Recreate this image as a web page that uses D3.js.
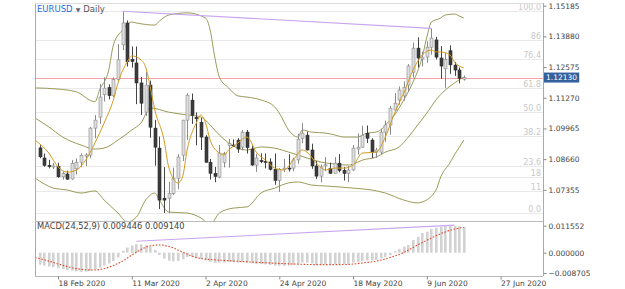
<!DOCTYPE html>
<html><head><meta charset="utf-8">
<script src="https://cdn.jsdelivr.net/npm/d3@7"></script>
<style>
body{margin:0;background:#fff}
svg{display:block}
text{font-family:"DejaVu Sans",sans-serif}
</style>
</head><body>
<svg id="c" width="625" height="289"></svg>
<script>
// ---------- DATA ----------
const symbol = "EURUSD", period = "Daily";
const dates = ["2020-02-12","2020-02-13","2020-02-14","2020-02-17","2020-02-18","2020-02-19","2020-02-20","2020-02-21","2020-02-24","2020-02-25","2020-02-26","2020-02-27","2020-02-28",
"2020-03-02","2020-03-03","2020-03-04","2020-03-05","2020-03-06","2020-03-09","2020-03-10","2020-03-11","2020-03-12","2020-03-13","2020-03-16","2020-03-17","2020-03-18","2020-03-19","2020-03-20","2020-03-23","2020-03-24","2020-03-25","2020-03-26","2020-03-27","2020-03-30","2020-03-31",
"2020-04-01","2020-04-02","2020-04-03","2020-04-06","2020-04-07","2020-04-08","2020-04-09","2020-04-10","2020-04-13","2020-04-14","2020-04-15","2020-04-16","2020-04-17","2020-04-20","2020-04-21","2020-04-22","2020-04-23","2020-04-24","2020-04-27","2020-04-28","2020-04-29","2020-04-30",
"2020-05-01","2020-05-04","2020-05-05","2020-05-06","2020-05-07","2020-05-08","2020-05-11","2020-05-12","2020-05-13","2020-05-14","2020-05-15","2020-05-18","2020-05-19","2020-05-20","2020-05-21","2020-05-22","2020-05-25","2020-05-26","2020-05-27","2020-05-28","2020-05-29",
"2020-06-01","2020-06-02","2020-06-03","2020-06-04","2020-06-05","2020-06-08","2020-06-09","2020-06-10","2020-06-11","2020-06-12","2020-06-15","2020-06-16","2020-06-17","2020-06-18","2020-06-19"];
const futureDates = ["2020-06-20","2020-06-21","2020-06-22","2020-06-23","2020-06-24","2020-06-25","2020-06-26","2020-06-27","2020-06-28","2020-06-29","2020-06-30"];

const open  = [1.0914,1.0871,1.0840,1.0833,1.0834,1.0791,1.0803,1.0782,1.0825,1.0853,1.0879,1.0883,1.0998,
1.1045,1.1140,1.1170,1.1136,1.1205,1.1352,1.1445,1.1290,1.1275,1.1190,1.1066,1.1181,1.0998,1.0913,1.0700,1.0700,1.0720,1.0785,1.0883,1.1032,1.1117,1.1043,
1.1023,1.0960,1.0853,1.0806,1.0790,1.0852,1.0925,1.0926,1.0947,1.0917,1.0981,1.0909,1.0841,1.0860,1.0857,1.0854,1.0823,1.0776,1.0823,1.0828,1.0828,1.0863,
1.0955,1.0968,1.0905,1.0837,1.0794,1.0838,1.0827,1.0806,1.0849,1.0818,1.0806,1.0820,1.0909,1.0917,1.0976,1.0947,1.0896,1.0896,1.0981,1.1011,1.1075,
1.1118,1.1135,1.1181,1.1236,1.1338,1.1292,1.1300,1.1342,1.1373,1.1296,1.1250,1.1327,1.1266,1.1245,1.1206];
const high  = [1.0925,1.0890,1.0863,1.0850,1.0851,1.0814,1.0817,1.0863,1.0869,1.0891,1.0891,1.1003,1.1054,
1.1185,1.1214,1.1184,1.1214,1.1355,1.1495,1.1456,1.1345,1.1345,1.1215,1.1236,1.1200,1.1033,1.0962,1.0832,1.0770,1.0830,1.0887,1.1033,1.1147,1.1145,1.1065,
1.1041,1.0968,1.0867,1.0833,1.0926,1.0897,1.0952,1.0950,1.0955,1.0990,1.0990,1.0925,1.0889,1.0891,1.0890,1.0870,1.0890,1.0828,1.0867,1.0887,1.0872,1.0974,
1.1019,1.0983,1.0932,1.0858,1.0843,1.0875,1.0851,1.0875,1.0888,1.0833,1.0838,1.0926,1.0975,1.1008,1.1009,1.0955,1.0914,1.0996,1.1030,1.1092,1.1147,
1.1175,1.1197,1.1270,1.1362,1.1384,1.1323,1.1367,1.1422,1.1386,1.1347,1.1318,1.1350,1.1279,1.1256,1.1222];
const low   = [1.0870,1.0834,1.0827,1.0824,1.0787,1.0779,1.0778,1.0778,1.0801,1.0832,1.0837,1.0870,1.0955,
1.1016,1.1111,1.1120,1.1130,1.1195,1.1330,1.1260,1.1255,1.1100,1.1054,1.1050,1.0957,1.0838,1.0654,1.0637,1.0636,1.0713,1.0738,1.0858,1.0948,1.1016,1.0925,
1.0905,1.0851,1.0779,1.0768,1.0785,1.0831,1.0830,1.0918,1.0893,1.0903,1.0890,1.0838,1.0812,1.0849,1.0827,1.0818,1.0757,1.0727,1.0811,1.0813,1.0814,1.0847,
1.0934,1.0903,1.0825,1.0782,1.0767,1.0815,1.0804,1.0806,1.0810,1.0775,1.0768,1.0816,1.0886,1.0915,1.0935,1.0870,1.0871,1.0886,1.0940,1.0970,1.1070,
1.1098,1.1115,1.1152,1.1213,1.1256,1.1260,1.1276,1.1310,1.1290,1.1208,1.1168,1.1229,1.1220,1.1188,1.1200];
const close = [1.0876,1.0840,1.0835,1.0837,1.0791,1.0805,1.0781,1.0848,1.0853,1.0881,1.0884,1.0998,1.1032,
1.1130,1.1168,1.1136,1.1205,1.1288,1.1445,1.1280,1.1282,1.1190,1.1104,1.1181,1.1002,1.0917,1.0692,1.0692,1.0720,1.0785,1.0875,1.1032,1.1138,1.1053,1.1038,
1.0960,1.0853,1.0806,1.0793,1.0892,1.0890,1.0932,1.0924,1.0909,1.0981,1.0915,1.0841,1.0871,1.0857,1.0854,1.0823,1.0776,1.0823,1.0828,1.0825,1.0863,1.0951,
1.0977,1.0905,1.0837,1.0794,1.0833,1.0842,1.0806,1.0849,1.0818,1.0806,1.0820,1.0913,1.0917,1.0968,1.0955,1.0896,1.0905,1.0981,1.1011,1.1083,1.1104,
1.1160,1.1172,1.1262,1.1338,1.1296,1.1300,1.1342,1.1381,1.1300,1.1262,1.1290,1.1267,1.1245,1.1210,1.1213];

// overlay lines: [bar index, price]
const smaFast = [[-1,1.0947],[2,1.0892],[4,1.0833],[6,1.0811],[8,1.0820],[10,1.0862],[12,1.0935],[14,1.1020],[16,1.1118],[17,1.1190],[19,1.1279],[20,1.1305],[22,1.1288],[23,1.1258],[24,1.1173],[25,1.1075],[27,1.0947],[28,1.0833],[30,1.0765],[31,1.0790],[32,1.0905],[34,1.1020],[35,1.1054],[36,1.1020],[37,1.0947],[39,1.0892],[40,1.0884],[41,1.0905],[43,1.0935],[45,1.0960],[47,1.0896],[49,1.0862],[51,1.0828],[53,1.0820],[55,1.0862],[57,1.0905],[58,1.0896],[60,1.0850],[62,1.0820],[64,1.0828],[66,1.0828],[68,1.0841],[70,1.0892],[73,1.0896],[75,1.0960],[77,1.1062],[79,1.1147],[81,1.1245],[83,1.1309],[85,1.1330],[86,1.1322],[87,1.1322],[89,1.1309],[90,1.1279],[92,1.1254]];
const bbUpper = [[-1,1.1169],[4,1.1164],[8,1.1152],[12,1.1110],[13,1.1160],[15,1.1245],[16,1.1351],[18,1.1415],[20,1.1449],[21,1.1445],[25,1.1436],[26,1.1453],[28,1.1479],[32,1.1488],[36,1.1466],[37,1.1415],[38,1.1300],[39,1.1215],[41,1.1169],[43,1.1135],[45,1.1130],[48,1.1118],[51,1.1088],[52,1.1062],[54,1.0990],[55,1.0969],[56,1.0960],[57,1.0990],[59,1.0981],[62,1.0977],[64,1.0969],[66,1.0960],[69,1.0960],[71,1.0977],[73,1.0981],[74,1.0990],[75,1.1011],[77,1.1054],[79,1.1118],[81,1.1194],[83,1.1300],[84,1.1385],[85,1.1449],[87,1.1466],[88,1.1479],[90,1.1483],[91,1.1475],[92,1.1466]];
const bbMiddle = [[-1,1.1041],[2,1.1003],[5,1.0960],[9,1.0926],[12,1.0909],[14,1.0913],[17,1.0947],[20,1.0990],[22,1.1020],[24,1.1084],[28,1.1066],[32,1.1054],[35,1.1045],[37,1.1011],[39,1.0969],[41,1.0935],[43,1.0913],[45,1.0905],[48,1.0918],[51,1.0913],[54,1.0896],[56,1.0884],[58,1.0871],[61,1.0854],[64,1.0845],[67,1.0841],[68,1.0845],[70,1.0862],[73,1.0875],[75,1.0896],[78,1.0918],[80,1.0960],[82,1.1011],[84,1.1062],[86,1.1118],[88,1.1160],[90,1.1190],[92,1.1215]];
const bbLower = [[-1,1.0786],[3,1.0743],[6,1.0735],[9,1.0722],[12,1.0731],[14,1.0692],[17,1.0637],[19,1.0599],[21,1.0620],[23,1.0692],[25,1.0722],[26,1.0692],[28,1.0641],[32,1.0637],[35,1.0616],[37,1.0590],[39,1.0637],[42,1.0658],[45,1.0663],[48,1.0722],[51,1.0743],[54,1.0765],[56,1.0769],[59,1.0756],[62,1.0752],[65,1.0748],[68,1.0743],[72,1.0735],[75,1.0722],[79,1.0692],[82,1.0680],[83,1.0684],[86,1.0735],[87,1.0790],[89,1.0850],[90,1.0885],[91,1.0915],[92,1.0947]];
const trendBars = [18, 85]; // highs joined by the price trend line

const fibLevels = [0, 11, 18, 23.6, 38.2, 50, 61.8, 76.4, 86, 100];
const fibLabels = ["0.0","11","18","23.6","38.2","50.0","61.8","76.4","86","100.0"];
const priceTicks = [1.07355, 1.08660, 1.09965, 1.11270, 1.12575, 1.13880, 1.15185];

const macdTitle = "MACD(24,52,9)";
const macdLast = 0.009446, signalLast = 0.009140;
const macdHist = [-0.0051,-0.0055,-0.0059,-0.0062,-0.0066,-0.0070,-0.0074,-0.0077,-0.0080,-0.0082,-0.0081,-0.0078,-0.0072,
-0.0064,-0.0055,-0.0046,-0.0035,-0.0020,0.0008,0.0022,0.0031,0.0036,0.0036,0.0032,0.0024,0.0012,-0.0010,-0.0025,-0.0034,-0.0037,-0.0035,-0.0028,-0.0019,-0.0018,-0.0021,
-0.0026,-0.0033,-0.0039,-0.0043,-0.0042,-0.0042,-0.0041,-0.0041,-0.0042,-0.0040,-0.0042,-0.0046,-0.0048,-0.0049,-0.0050,-0.0052,-0.0055,-0.0056,-0.0056,-0.0055,-0.0053,-0.0047,
-0.0042,-0.0042,-0.0046,-0.0050,-0.0050,-0.0049,-0.0049,-0.0048,-0.0048,-0.0048,-0.0047,-0.0042,-0.0039,-0.0035,-0.0033,-0.0033,-0.0031,-0.0025,-0.0019,-0.0011,0.0006,
0.0016,0.0026,0.0033,0.0054,0.0068,0.0084,0.0090,0.0101,0.0107,0.0111,0.0116,0.0116,0.0114,0.0113,0.0111];
const macdSignal = [[-1,-0.0021],[0,-0.0025],[2,-0.0036],[4,-0.0048],[6,-0.0059],[8,-0.0068],[10,-0.0073],[12,-0.0074],[14,-0.0068],[16,-0.0055],[18,-0.0036],[20,-0.0010],[22,0.0014],[24,0.0029],[26,0.0033],[28,0.0027],[30,0.0012],[32,-0.0006],[34,-0.0021],[37,-0.0029],[40,-0.0033],[44,-0.0038],[48,-0.0042],[52,-0.0046],[56,-0.0049],[60,-0.0051],[64,-0.0051],[67,-0.0050],[70,-0.0044],[73,-0.0036],[76,-0.0021],[79,0.0001],[82,0.0033],[85,0.0063],[88,0.0089],[90,0.0101],[92,0.0108]];
const macdTrend = [[21, 0.0049], [90, 0.0118]];
const macdTicks = [0.011552, 0, -0.008705];

const tickDates  = ["2020-02-18","2020-03-11","2020-04-02","2020-04-24","2020-05-18","2020-06-09","2020-06-27"];
const tickLabels = ["18 Feb 2020","11 Mar 2020","2 Apr 2020","24 Apr 2020","18 May 2020","9 Jun 2020","27 Jun 2020"];

// ---------- LAYOUT ----------
const L = 35, R = 543, T = 3, MB = 221, B = 276;
const slots = dates.concat(futureDates);
const x = d3.scaleLinear().domain([0, 1]).range([39.6, 39.6 + 4.61]);
const y = d3.scaleLinear().domain([1.06031, 1.15300]).range([MB, T]);
const ym = d3.scaleLinear().domain([-0.00997, 0.01356]).range([B, MB]);

const svg = d3.select("#c");
const defs = svg.append("defs");
defs.append("clipPath").attr("id","clipMain").append("rect").attr("x",L).attr("y",T).attr("width",R-L).attr("height",MB-T);
defs.append("clipPath").attr("id","clipMacd").append("rect").attr("x",L).attr("y",MB).attr("width",R-L).attr("height",B-MB);

// fib grid
const fLow = d3.min(low), fHigh = d3.max(high);
const fibPrice = f => fLow + f/100*(fHigh - fLow);
const gFib = svg.append("g");
fibLevels.forEach((f,i) => {
  const yy = Math.round(y(fibPrice(f))) + 0.5;
  gFib.append("line").attr("x1",L).attr("x2",R).attr("y1",yy).attr("y2",yy).attr("stroke","#e9e9e9").attr("stroke-width",1);
  gFib.append("text").attr("x",R-2).attr("y",yy-1.5).attr("text-anchor","end").attr("font-size",8).attr("fill","#c8c8c8").text(fibLabels[i]);
});

// current price line
const last = close[close.length-1];
svg.append("line").attr("x1",L).attr("x2",R).attr("y1",Math.round(y(last))+0.5).attr("y2",Math.round(y(last))+0.5)
  .attr("stroke","#f2a3a3").attr("stroke-width",1);

const main = svg.append("g").attr("clip-path","url(#clipMain)");
const line = d3.line().x(d=>x(d[0])).y(d=>y(d[1])).curve(d3.curveMonotoneX);

// bollinger
[bbUpper, bbMiddle, bbLower].forEach(s => {
  main.append("path").attr("d", line(s)).attr("fill","none").attr("stroke","#8e8e45").attr("stroke-width",0.9);
});

// candles
const idx = d3.range(dates.length);
const cg = main.append("g");
cg.selectAll("line.w").data(idx).join("line")
  .attr("x1",i=>Math.round(x(i))+0.5).attr("x2",i=>Math.round(x(i))+0.5)
  .attr("y1",i=>y(high[i])).attr("y2",i=>y(low[i]))
  .attr("stroke",i=>close[i]>=open[i]?"#8a8a8a":"#444").attr("stroke-width",1);
cg.selectAll("rect").data(idx).join("rect")
  .attr("x",i=>Math.round(x(i))-1)
  .attr("width",3)
  .attr("y",i=>y(Math.max(open[i],close[i])))
  .attr("height",i=>Math.max(1, Math.abs(y(open[i])-y(close[i]))))
  .attr("fill",i=>close[i]>=open[i]?"#dedede":"#3c3c3c")
  .attr("stroke",i=>close[i]>=open[i]?"#8a8a8a":"#2a2a2a").attr("stroke-width",0.6);

// fast MA
main.append("path").attr("d", line(smaFast)).attr("fill","none").attr("stroke","#d39a1c").attr("stroke-width",1);

// trend line
main.append("line")
  .attr("x1",x(trendBars[0])).attr("y1",y(high[trendBars[0]]))
  .attr("x2",x(trendBars[1])).attr("y2",y(high[trendBars[1]]))
  .attr("stroke","#c8a4f2").attr("stroke-width",1.1);

// MACD
const mg = svg.append("g").attr("clip-path","url(#clipMacd)");
mg.selectAll("rect").data(idx).join("rect")
  .attr("x",i=>Math.round(x(i))-1).attr("width",2.6)
  .attr("y",i=>Math.min(ym(0),ym(macdHist[i])))
  .attr("height",i=>Math.abs(ym(macdHist[i])-ym(0)))
  .attr("fill","#d2d2d2");
const mline = d3.line().x(d=>x(d[0])).y(d=>ym(d[1])).curve(d3.curveMonotoneX);
mg.append("path").attr("d", mline(macdSignal)).attr("fill","none").attr("stroke","#e4492b").attr("stroke-width",1.1).attr("stroke-dasharray","1.6,1.6");
mg.append("path").attr("d", d3.line().x(d=>x(d[0])).y(d=>ym(d[1]))(macdTrend)).attr("fill","none").attr("stroke","#c8a4f2").attr("stroke-width",1.1);

// frame
svg.append("line").attr("x1",L+0.5).attr("x2",L+0.5).attr("y1",T).attr("y2",B).attr("stroke","#aaa");
svg.append("line").attr("x1",R+0.5).attr("x2",R+0.5).attr("y1",T).attr("y2",B).attr("stroke","#aaa");
svg.append("line").attr("x1",L).attr("x2",R).attr("y1",T+0.5).attr("y2",T+0.5).attr("stroke","#ddd");
svg.append("line").attr("x1",L).attr("x2",R).attr("y1",MB+0.5).attr("y2",MB+0.5).attr("stroke","#bbb");
svg.append("line").attr("x1",L).attr("x2",R).attr("y1",B+0.5).attr("y2",B+0.5).attr("stroke","#bbb");

// price axis
const pAx = svg.append("g").attr("transform",`translate(${R+0.5},0)`)
  .call(d3.axisRight(y).tickValues(priceTicks).tickFormat(d3.format(".5f")).tickSize(3).tickPadding(2));
pAx.select(".domain").remove();
pAx.selectAll("line").attr("stroke","#888");
pAx.selectAll("text").attr("font-size",7.5).attr("fill","#444").attr("font-family","DejaVu Sans");

// current price box
const cp = svg.append("g");
const cpy = y(last);
const cpt = cp.append("text").attr("x",R+3).attr("y",cpy).attr("dy","0.35em").attr("font-size",7.5).attr("fill","#fff").text(d3.format(".5f")(last));
const bb = cpt.node().getBBox();
cp.insert("rect","text").attr("x",R+1).attr("y",cpy-5).attr("width",bb.width+4).attr("height",10).attr("fill","#34619c");

// macd axis
const mAx = svg.append("g").attr("transform",`translate(${R+0.5},0)`)
  .call(d3.axisRight(ym).tickValues(macdTicks).tickFormat(d3.format(".6f")).tickSize(3).tickPadding(2));
mAx.select(".domain").remove();
mAx.selectAll("line").attr("stroke","#888");
mAx.selectAll("text").attr("font-size",7.5).attr("fill","#444").attr("font-family","DejaVu Sans");

// date axis
const tickIdx = tickDates.map(d => slots.indexOf(d));
const xAx = svg.append("g").attr("transform",`translate(0,${B+0.5})`)
  .call(d3.axisBottom(x).tickValues(tickIdx).tickFormat((d,i)=>tickLabels[i]).tickSize(3).tickPadding(1));
xAx.select(".domain").remove();
xAx.selectAll("line").attr("stroke","#888");
xAx.selectAll("text").attr("font-size",7.5).attr("fill","#444").attr("text-anchor","start").attr("font-family","DejaVu Sans");

// titles
const t = svg.append("text").attr("x",37).attr("y",11.5).attr("font-size",8.5);
t.append("tspan").attr("fill","#1f6fe6").text(symbol);
t.append("tspan").attr("fill","#667").attr("font-size",6).attr("dx",3).text("▼");
t.append("tspan").attr("fill","#555").attr("dx",3).text(period);

svg.append("text").attr("x",37).attr("y",229).attr("font-size",8.3).attr("fill","#444")
  .text(`${macdTitle} ${macdLast.toFixed(6)} ${signalLast.toFixed(6)}`);
</script>
</body></html>
